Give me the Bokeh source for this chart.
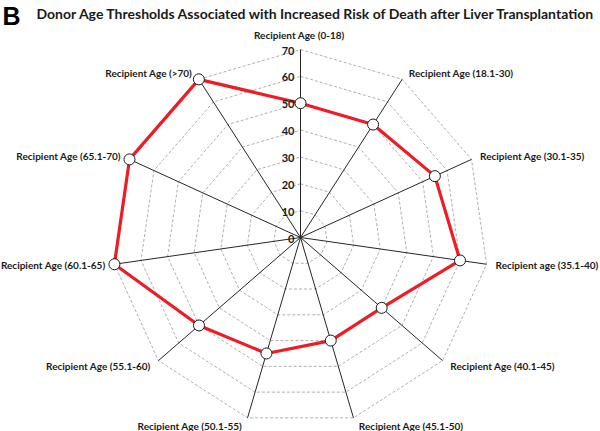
import math

from bokeh.plotting import figure
from bokeh.models import Range1d, Label
from bokeh.core.properties import value
from bokeh.embed import file_html
from bokeh.resources import INLINE

# --- data -------------------------------------------------------------
categories = [
    "Recipient Age  (0-18)",
    "Recipient Age (18.1-30)",
    "Recipient Age (30.1-35)",
    "Recipient age (35.1-40)",
    "Recipient Age (40.1-45)",
    "Recipient Age (45.1-50)",
    "Recipient Age (50.1-55)",
    "Recipient Age (55.1-60)",
    "Recipient Age (60.1-65)",
    "Recipient Age (65.1-70)",
    "Recipient Age (>70)",
]
donor_age = [50, 50, 55, 60, 40, 40, 45, 50, 70, 70, 70]
ticks = [0, 10, 20, 30, 40, 50, 60, 70]
r_max = 70

title = "Donor Age Thresholds Associated with Increased Risk of Death after Liver Transplantation"
panel = "B"

# --- geometry ---------------------------------------------------------
W, H = 600, 431
cx_px, cy_px = 300, 237          # pixel position of the radar centre
px_per_unit = 188 / r_max        # pixels per unit of donor age

n = len(categories)
angles = [2 * math.pi * i / n for i in range(n)]   # clockwise from top


def polar(r, a):
    return r * math.sin(a), r * math.cos(a)


p = figure(
    width=W, height=H,
    x_range=Range1d(-cx_px / px_per_unit, (W - cx_px) / px_per_unit),
    y_range=Range1d(-(H - cy_px) / px_per_unit, cy_px / px_per_unit),
    output_backend="svg", toolbar_location=None,
    min_border=0, outline_line_color=None,
)
p.axis.visible = False
p.grid.visible = False
p.background_fill_color = "white"
p.border_fill_color = "white"

FONT = "Lato"
LABEL_SIZE = "10px"

# dashed grid polygons
for t in ticks[1:]:
    xs = [polar(t, a)[0] for a in angles] + [polar(t, angles[0])[0]]
    ys = [polar(t, a)[1] for a in angles] + [polar(t, angles[0])[1]]
    p.line(xs, ys, line_color="#a6a6a6", line_width=0.9, line_dash="3 2")

# spokes
for a in angles:
    ex, ey = polar(r_max, a)
    p.line([0, ex], [0, ey], line_color="#262626", line_width=1)

# data series
sx = [polar(v, a)[0] for v, a in zip(donor_age, angles)]
sy = [polar(v, a)[1] for v, a in zip(donor_age, angles)]
p.line(sx + [sx[0]], sy + [sy[0]], line_color="#ee1c24", line_width=3.2)
p.scatter(sx, sy, size=11, fill_color="white", line_color="#1a1a1a", line_width=1)

# radial tick labels along the top spoke
p.text(
    x=[0] * len(ticks), y=ticks, text=[str(t) for t in ticks],
    x_offset=-6, y_offset=1,
    text_align="right", text_baseline="middle",
    text_font=value(FONT), text_font_style="bold", text_font_size="11px",
    text_color="#1a1a1a",
)

# category labels
for cat, a in zip(categories, angles):
    ex, ey = polar(r_max, a)
    s, c = math.sin(a), math.cos(a)
    if abs(s) < 1e-6:
        align, xo, yo = "center", 0, -15
    elif s > 0:
        align, xo, yo = "left", 4 + 5 * s, -8 * c
    else:
        align, xo, yo = "right", -4 + 5 * s, -8 * c
    p.text(
        x=[ex], y=[ey], text=[cat], x_offset=xo, y_offset=yo,
        text_align=align, text_baseline="middle",
        text_font=value(FONT), text_font_style="bold", text_font_size=LABEL_SIZE,
        text_color="#1a1a1a",
    )

# heading
p.add_layout(Label(
    x=36, y=H - 13, x_units="screen", y_units="screen", text=title,
    text_font=FONT, text_font_style="bold", text_font_size="14px",
    text_baseline="middle", text_color="#1a1a1a",
))
p.add_layout(Label(
    x=2, y=H - 15, x_units="screen", y_units="screen", text=panel,
    text_font="Liberation Sans", text_font_style="bold", text_font_size="25px",
    text_baseline="middle", text_color="black",
))

open("out.html", "w").write(file_html(p, INLINE))
